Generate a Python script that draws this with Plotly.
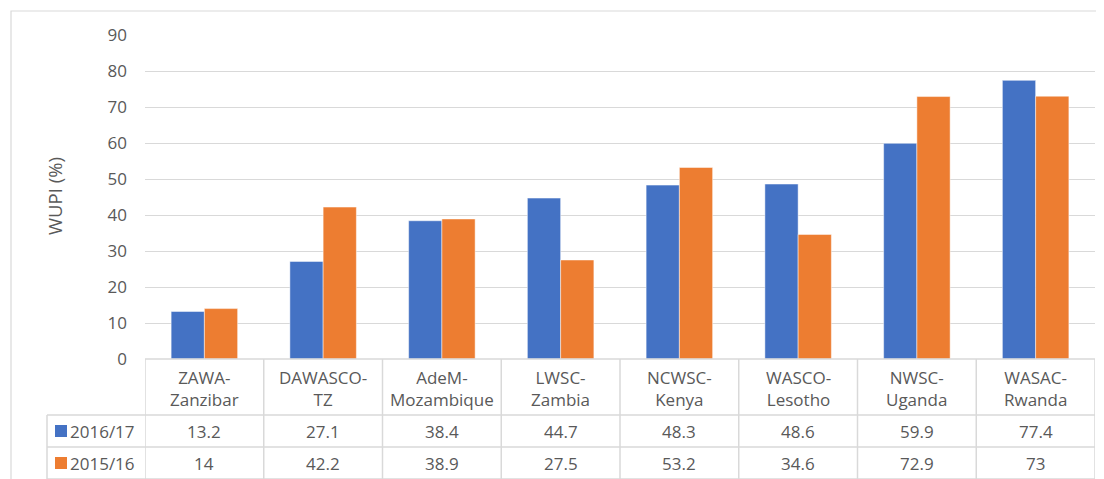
import plotly.graph_objects as go

# page body adds an 8px margin; lay the figure out in reference pixels minus that offset
OFF = 8
W, H = 1104 - OFF, 479 - OFF

categories = ["ZAWA-<br>Zanzibar", "DAWASCO-<br>TZ", "AdeM-<br>Mozambique", "LWSC-<br>Zambia",
              "NCWSC-<br>Kenya", "WASCO-<br>Lesotho", "NWSC-<br>Uganda", "WASAC-<br>Rwanda"]
series_names = ["2016/17", "2015/16"]
values_2016 = [13.2, 27.1, 38.4, 44.7, 48.3, 48.6, 59.9, 77.4]
values_2015 = [14, 42.2, 38.9, 27.5, 53.2, 34.6, 72.9, 73]
value_labels_2016 = ["13.2", "27.1", "38.4", "44.7", "48.3", "48.6", "59.9", "77.4"]
value_labels_2015 = ["14", "42.2", "38.9", "27.5", "53.2", "34.6", "72.9", "73"]
y_ticks = [0, 10, 20, 30, 40, 50, 60, 70, 80, 90]
y_title = "WUPI (%)"

BLUE = "#4472C4"
ORANGE = "#ED7D31"
GRID = "#D9D9D9"
TXT = "#595959"
FONT = "Open Sans"

def px_y(py):
    return 1 - (py - OFF) / H

def px_x(px):
    return (px - OFF) / W

x_left, x_right = 145, 1095
y_top, y_zero = 35, 359
idx = list(range(len(categories)))

fig = go.Figure()
fig.add_trace(go.Bar(x=idx, y=values_2016, name=series_names[0], marker_color=BLUE,
                     marker_line=dict(color="rgba(255,255,255,0.6)", width=0.8)))
fig.add_trace(go.Bar(x=idx, y=values_2015, name=series_names[1], marker_color=ORANGE,
                     marker_line=dict(color="rgba(255,255,255,0.6)", width=0.8)))

shapes = []
# outer chart border
shapes.append(dict(type="rect", xref="paper", yref="paper", x0=px_x(11), x1=px_x(1115),
                   y0=px_y(495), y1=px_y(11), line=dict(color=GRID, width=1.2)))
line_style = dict(color=GRID, width=1.5)
shapes.append(dict(type="line", xref="paper", yref="paper", x0=px_x(x_left), x1=px_x(x_right),
                   y0=px_y(y_zero), y1=px_y(y_zero), line=line_style))
for py in [415, 447, 479]:
    shapes.append(dict(type="line", xref="paper", yref="paper", x0=px_x(47), x1=px_x(x_right),
                       y0=px_y(py), y1=px_y(py), line=line_style))
for i in range(len(categories) + 1):
    shapes.append(dict(type="line", xref="x", yref="paper", x0=i - 0.5, x1=i - 0.5,
                       y0=px_y(y_zero), y1=px_y(490), line=line_style))
shapes.append(dict(type="line", xref="paper", yref="paper", x0=px_x(47), x1=px_x(47),
                   y0=px_y(415), y1=px_y(490), line=line_style))
for py_c, col in [(431, BLUE), (463, ORANGE)]:
    shapes.append(dict(type="rect", xref="paper", yref="paper", x0=px_x(55), x1=px_x(67),
                       y0=px_y(py_c + 6), y1=px_y(py_c - 6), fillcolor=col, line=dict(width=0)))

ann = []
fnt = dict(family=FONT, size=17, color=TXT)
for i, c in enumerate(categories):
    ann.append(dict(x=i, y=px_y(388), xref="x", yref="paper", text=c, showarrow=False,
                    font=fnt, xanchor="center", yanchor="middle"))
    ann.append(dict(x=i, y=px_y(431), xref="x", yref="paper", text=value_labels_2016[i],
                    showarrow=False, font=fnt, xanchor="center", yanchor="middle"))
    ann.append(dict(x=i, y=px_y(463), xref="x", yref="paper", text=value_labels_2015[i],
                    showarrow=False, font=fnt, xanchor="center", yanchor="middle"))
for name, py_c in zip(series_names, [431, 463]):
    ann.append(dict(x=px_x(68), y=px_y(py_c), xref="paper", yref="paper", text=name,
                    showarrow=False, font=fnt, xanchor="left", yanchor="middle"))
ann.append(dict(x=px_x(54), y=px_y(196), xref="paper", yref="paper", text=y_title, textangle=-90,
                showarrow=False, font=dict(family=FONT, size=18.5, color=TXT),
                xanchor="center", yanchor="middle"))

fig.update_layout(
    template="none",
    width=W, height=H,
    margin=dict(l=0, r=0, t=0, b=0, pad=0),
    paper_bgcolor="white", plot_bgcolor="white",
    barmode="group", bargap=0.44, bargroupgap=0,
    showlegend=False,
    shapes=shapes, annotations=ann,
    font=dict(family=FONT, color=TXT),
    xaxis=dict(domain=[px_x(x_left), px_x(x_right)], range=[-0.5, len(categories) - 0.5],
               showticklabels=False, showgrid=False, zeroline=False, showline=False, ticks="",
               automargin=False),
    yaxis=dict(domain=[px_y(y_zero), px_y(y_top)], range=[0, 90], tickvals=y_ticks,
               showgrid=True, gridcolor=GRID, gridwidth=1.2, zeroline=False, showline=False,
               ticks="", ticklabelstandoff=17, automargin=False,
               tickfont=dict(family=FONT, size=17, color=TXT)),
)

fig.write_html("out.html")
